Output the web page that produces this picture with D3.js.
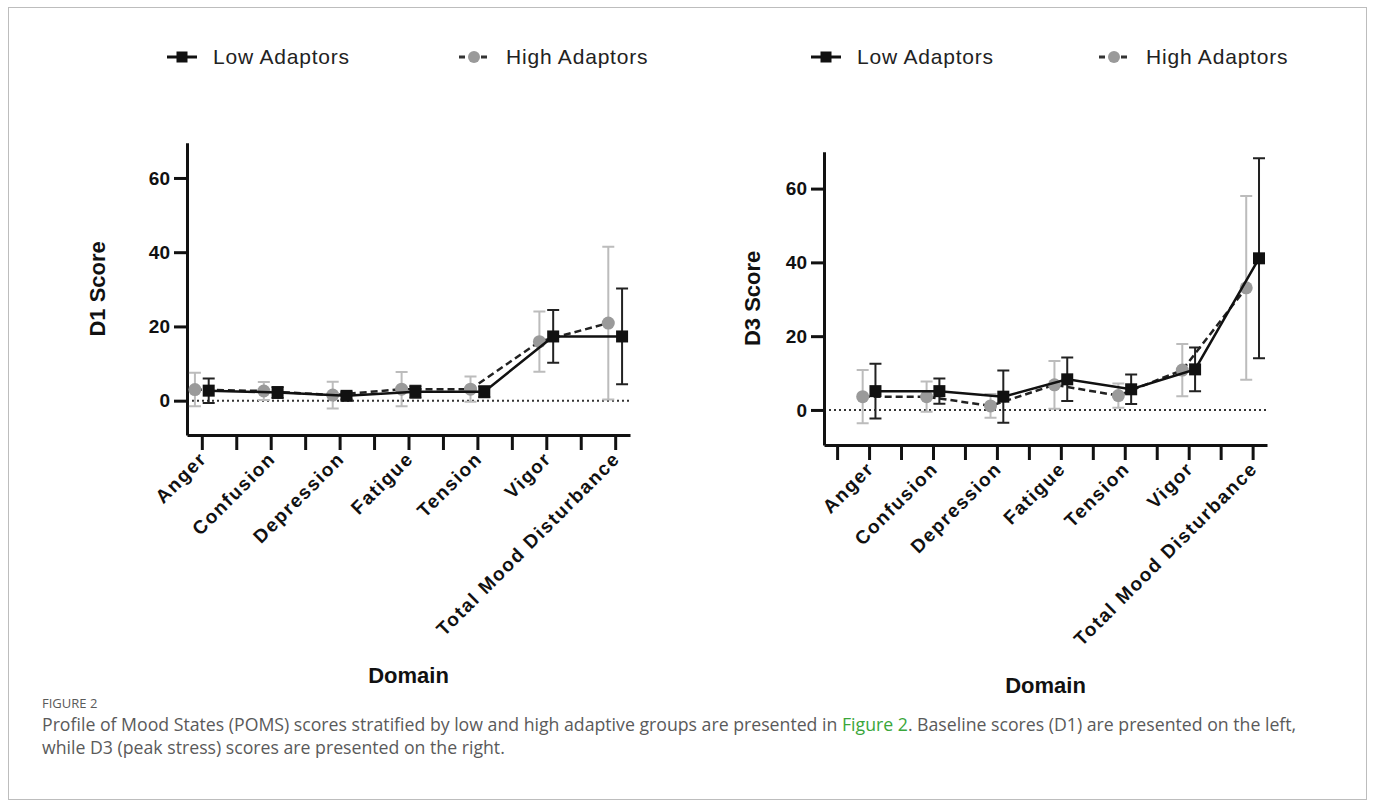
<!DOCTYPE html>
<html>
<head>
<meta charset="utf-8">
<script src="https://cdn.jsdelivr.net/npm/d3@7"></script>
<style>
  body { margin: 0; background: #fff; }
  svg text { font-family: "Liberation Sans", Arial, sans-serif; }
</style>
</head>
<body>
<div id="chart"></div>
<script>
var svgWidth = 1375;
var svgHeight = 808;

// categories and values
var domains = ["Anger", "Confusion", "Depression", "Fatigue", "Tension", "Vigor", "Total Mood Disturbance"];
var yTicks = [0, 20, 40, 60];

// D1 (baseline)
var d1LowMean = [2.7, 2.2, 1.3, 2.4, 2.4, 17.3, 17.3];
var d1LowErr = [3.3, 1.5, 1.0, 1.6, 1.5, 7.1, 12.9];
var d1HighMean = [3.0, 2.6, 1.5, 3.1, 3.1, 15.9, 20.9];
var d1HighErr = [4.5, 2.4, 3.6, 4.6, 3.4, 8.1, 20.6];

// D3 (peak stress)
var d3LowMean = [5.1, 5.1, 3.6, 8.3, 5.6, 11.0, 41.1];
var d3LowErr = [7.4, 3.4, 7.1, 5.9, 4.0, 5.9, 27.1];
var d3HighMean = [3.6, 3.6, 1.1, 6.8, 3.9, 10.8, 33.1];
var d3HighErr = [7.2, 4.1, 3.2, 6.5, 3.3, 7.1, 24.9];

var svg = d3.select("#chart")
  .append("svg")
  .attr("width", svgWidth)
  .attr("height", svgHeight);

// outer frame
svg.append("rect")
  .attr("x", 8.5).attr("y", 7.5)
  .attr("width", 1358).attr("height", 792)
  .attr("fill", "none")
  .attr("stroke", "#bdbdbd")
  .attr("stroke-width", 1);

function drawPanel(p) {
  var g = svg.append("g");

  var x = d3.scaleLinear().domain(p.xDomain).range([p.left, p.right]);
  var y = d3.scaleLinear().domain(p.yDomain).range([p.bottom, p.top]);

  // category index -> tick index
  var catTick = function(i) { return p.firstCat + 2 * i; };

  // dotted zero line
  g.append("line")
    .attr("x1", p.left).attr("x2", p.right)
    .attr("y1", y(0)).attr("y2", y(0))
    .attr("stroke", "#333")
    .attr("stroke-width", 2)
    .attr("stroke-dasharray", "2,3");

  // axes
  var xAxis = g.append("g")
    .attr("transform", `translate(0, ${p.bottom})`)
    .call(d3.axisBottom(x)
      .tickValues(d3.range(p.nTicks))
      .tickSize(15)
      .tickSizeOuter(0)
      .tickFormat(""));
  xAxis.select(".domain").attr("stroke-width", 3).attr("stroke", "#111");
  xAxis.selectAll(".tick line").attr("stroke-width", 3).attr("stroke", "#111");

  var yAxis = g.append("g")
    .attr("transform", `translate(${p.left}, 0)`)
    .call(d3.axisLeft(y)
      .tickValues(yTicks)
      .tickSize(13)
      .tickSizeOuter(0)
      .tickPadding(4));
  yAxis.select(".domain").attr("stroke-width", 3).attr("stroke", "#111");
  yAxis.selectAll(".tick line").attr("stroke-width", 3).attr("stroke", "#111");
  yAxis.selectAll(".tick text")
    .attr("font-size", 19)
    .attr("font-weight", "bold")
    .attr("fill", "#111")
    .style("font-family", "Liberation Sans, Arial, sans-serif");

  // rotated category labels
  g.selectAll(".xlab")
    .data(domains)
    .enter()
    .append("text")
    .attr("class", "xlab")
    .attr("transform", (d, i) => `translate(${x(catTick(i)) + 6}, ${p.bottom + 25}) rotate(-45)`)
    .attr("text-anchor", "end")
    .attr("font-size", 19)
    .attr("font-weight", "bold")
    .attr("letter-spacing", 1.6)
    .attr("fill", "#111")
    .text(d => d);

  // axis titles
  g.append("text")
    .attr("transform", `translate(${p.left - p.titleGap}, ${(p.top + p.bottom) / 2}) rotate(-90)`)
    .attr("text-anchor", "middle")
    .attr("font-size", 22)
    .attr("font-weight", "bold")
    .attr("fill", "#111")
    .text(p.yTitle);

  g.append("text")
    .attr("x", (p.left + p.right) / 2)
    .attr("y", p.domainY)
    .attr("text-anchor", "middle")
    .attr("font-size", 22)
    .attr("font-weight", "bold")
    .attr("fill", "#111")
    .text("Domain");

  // one series: error bars, line, markers
  function series(mean, err, offset, opts) {
    var pts = mean.map((m, i) => ({ x: x(catTick(i) + offset), m: m, e: err[i] }));
    var s = g.append("g");

    s.selectAll(".bar")
      .data(pts)
      .enter()
      .append("path")
      .attr("d", d => `M${d.x},${y(d.m - d.e)}V${y(d.m + d.e)}` +
        `M${d.x - 6},${y(d.m + d.e)}H${d.x + 6}` +
        `M${d.x - 6},${y(d.m - d.e)}H${d.x + 6}`)
      .attr("fill", "none")
      .attr("stroke", opts.barColor)
      .attr("stroke-width", 2);

    s.append("path")
      .datum(pts)
      .attr("d", d3.line().x(d => d.x).y(d => y(d.m)))
      .attr("fill", "none")
      .attr("stroke", opts.lineColor)
      .attr("stroke-width", 2.5)
      .attr("stroke-dasharray", opts.dash);

    if (opts.shape === "square") {
      s.selectAll(".mk")
        .data(pts)
        .enter()
        .append("rect")
        .attr("x", d => d.x - 6)
        .attr("y", d => y(d.m) - 6)
        .attr("width", 12).attr("height", 12)
        .attr("fill", opts.markColor);
    } else {
      s.selectAll(".mk")
        .data(pts)
        .enter()
        .append("circle")
        .attr("cx", d => d.x)
        .attr("cy", d => y(d.m))
        .attr("r", 6.5)
        .attr("fill", opts.markColor);
    }
  }

  var highStyle = { barColor: "#bcbcbc", lineColor: "#222", dash: "7,4", shape: "circle", markColor: "#9a9a9a" };
  var lowStyle = { barColor: "#222", lineColor: "#111", dash: null, shape: "square", markColor: "#111" };

  series(p.highMean, p.highErr, -0.2, highStyle);
  series(p.lowMean, p.lowErr, 0.2, lowStyle);

  // legend
  var leg = g.append("g");
  var ly = 57;
  leg.append("line")
    .attr("x1", p.legLow - 15).attr("x2", p.legLow + 15)
    .attr("y1", ly).attr("y2", ly)
    .attr("stroke", "#111").attr("stroke-width", 3);
  leg.append("rect")
    .attr("x", p.legLow - 5.5).attr("y", ly - 5.5)
    .attr("width", 11).attr("height", 11)
    .attr("fill", "#111");
  leg.append("text")
    .attr("x", p.legLow + 31).attr("y", ly + 7)
    .attr("font-size", 21)
    .attr("letter-spacing", 0.8)
    .attr("fill", "#222")
    .text("Low Adaptors");

  leg.append("line")
    .attr("x1", p.legHigh - 15).attr("x2", p.legHigh + 15)
    .attr("y1", ly).attr("y2", ly)
    .attr("stroke", "#333").attr("stroke-width", 3)
    .attr("stroke-dasharray", "6,5");
  leg.append("circle")
    .attr("cx", p.legHigh).attr("cy", ly)
    .attr("r", 6)
    .attr("fill", "#9a9a9a");
  leg.append("text")
    .attr("x", p.legHigh + 32).attr("y", ly + 7)
    .attr("font-size", 21)
    .attr("letter-spacing", 0.8)
    .attr("fill", "#222")
    .text("High Adaptors");
}

// left: baseline
drawPanel({
  left: 187, right: 630, top: 142.7, bottom: 435,
  xDomain: [-0.43, 12.43], nTicks: 13, firstCat: 0,
  yDomain: [-9.25, 69.5],
  yTitle: "D1 Score", titleGap: 82, domainY: 683,
  legLow: 182, legHigh: 474,
  lowMean: d1LowMean, lowErr: d1LowErr,
  highMean: d1HighMean, highErr: d1HighErr
});

// right: peak stress
drawPanel({
  left: 824, right: 1267, top: 151.7, bottom: 445,
  xDomain: [-0.41, 13.45], nTicks: 14, firstCat: 1,
  yDomain: [-9.5, 70],
  yTitle: "D3 Score", titleGap: 64, domainY: 693,
  legLow: 826, legHigh: 1114,
  lowMean: d3LowMean, lowErr: d3LowErr,
  highMean: d3HighMean, highErr: d3HighErr
});

// caption
var cap = svg.append("g")
  .attr("fill", "#5a5a5a");

cap.append("text")
  .attr("x", 42).attr("y", 708)
  .attr("font-size", 13)
  .style("font-family", "'Open Sans', sans-serif")
  .text("FIGURE 2");

var line1 = cap.append("text")
  .attr("x", 42).attr("y", 731)
  .attr("font-size", 17.7)
  .style("font-family", "'Open Sans', sans-serif");
line1.append("tspan").text("Profile of Mood States (POMS) scores stratified by low and high adaptive groups are presented in ");
line1.append("tspan").attr("fill", "#3aa63a").text("Figure 2");
line1.append("tspan").text(". Baseline scores (D1) are presented on the left,");

cap.append("text")
  .attr("x", 42).attr("y", 754)
  .attr("font-size", 17.7)
  .style("font-family", "'Open Sans', sans-serif")
  .text("while D3 (peak stress) scores are presented on the right.");
</script>
</body>
</html>
